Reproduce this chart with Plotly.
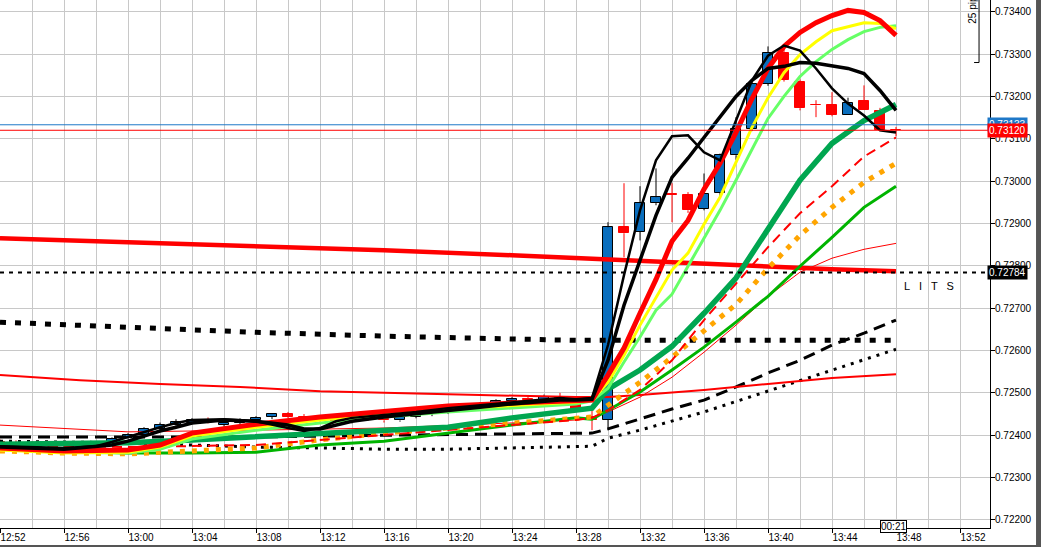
import plotly.graph_objects as go

# ---------------- data ----------------
# minutes since 12:52 (one candle per minute, 12:52 .. 13:48)
minutes = list(range(57))
opens = [0.72385, 0.72382, 0.72380, 0.72378, 0.72376, 0.72380, 0.72378, 0.72382, 0.72393, 0.72401,
         0.72415, 0.72425, 0.72429, 0.72436, 0.72424, 0.72430, 0.72437, 0.72443, 0.72450, 0.72444,
         0.72440, 0.72438, 0.72431, 0.72441, 0.72438, 0.72435, 0.72443, 0.72452, 0.72456, 0.72460,
         0.72466, 0.72474, 0.72480, 0.72485, 0.72484, 0.72490, 0.72478, 0.72443, 0.72436, 0.72891,
         0.72880, 0.72948, 0.72969, 0.72967, 0.72935, 0.72973, 0.73061, 0.73124, 0.73230, 0.73303,
         0.73235, 0.73180, 0.73180, 0.73155, 0.73188, 0.73165, 0.73121]
highs = [0.72390, 0.72388, 0.72386, 0.72385, 0.72384, 0.72386, 0.72385, 0.72395, 0.72405, 0.72419,
         0.72430, 0.72438, 0.72440, 0.72442, 0.72433, 0.72440, 0.72445, 0.72452, 0.72455, 0.72450,
         0.72446, 0.72442, 0.72445, 0.72448, 0.72444, 0.72446, 0.72455, 0.72460, 0.72465, 0.72470,
         0.72478, 0.72485, 0.72490, 0.72495, 0.72496, 0.72500, 0.72492, 0.72467, 0.72903, 0.72995,
         0.72988, 0.73030, 0.72995, 0.72974, 0.73018, 0.73065, 0.73151, 0.73235, 0.73318, 0.73312,
         0.73240, 0.73191, 0.73210, 0.73197, 0.73226, 0.73173, 0.73128]
lows = [0.72378, 0.72375, 0.72374, 0.72372, 0.72371, 0.72374, 0.72375, 0.72380, 0.72390, 0.72398,
        0.72410, 0.72420, 0.72426, 0.72428, 0.72420, 0.72426, 0.72430, 0.72438, 0.72440, 0.72436,
        0.72432, 0.72428, 0.72428, 0.72434, 0.72430, 0.72432, 0.72440, 0.72445, 0.72450, 0.72455,
        0.72460, 0.72468, 0.72472, 0.72470, 0.72478, 0.72480, 0.72455, 0.72412, 0.72412, 0.72820,
        0.72860, 0.72943, 0.72903, 0.72925, 0.72931, 0.72965, 0.73050, 0.73118, 0.73225, 0.73235,
        0.73167, 0.73151, 0.73153, 0.73155, 0.73169, 0.73120, 0.73106]
closes = [0.72382, 0.72380, 0.72378, 0.72376, 0.72380, 0.72378, 0.72383, 0.72392, 0.72401, 0.72415,
          0.72425, 0.72432, 0.72436, 0.72432, 0.72429, 0.72437, 0.72441, 0.72450, 0.72444, 0.72440,
          0.72436, 0.72431, 0.72441, 0.72438, 0.72435, 0.72443, 0.72452, 0.72456, 0.72460, 0.72466,
          0.72474, 0.72480, 0.72485, 0.72484, 0.72490, 0.72486, 0.72460, 0.72436, 0.72891, 0.72877,
          0.72948, 0.72962, 0.72968, 0.72931, 0.72970, 0.73061, 0.73124, 0.73230, 0.73303, 0.73239,
          0.73172, 0.73179, 0.73156, 0.73185, 0.73169, 0.73121, 0.73120]

# indicator lines (minute, price)
slow_red_t = [0, 8, 16, 24, 32, 36, 40, 44, 48, 52, 56]
slow_red = [0.72865, 0.72856, 0.72846, 0.72837, 0.72825, 0.72818, 0.72813, 0.72806, 0.72799, 0.72792, 0.72787]

low_red_t = [0, 5, 10, 15, 20, 25, 30, 36, 38, 40, 44, 48, 52, 56]
low_red = [0.72542, 0.72530, 0.72521, 0.72514, 0.72504, 0.72499, 0.72495, 0.72490, 0.72490, 0.72495,
           0.72507, 0.72521, 0.72535, 0.72544]

sq_black_t = [0, 8, 16, 24, 32, 36, 44, 56]
sq_black = [0.72667, 0.72655, 0.72643, 0.72634, 0.72627, 0.72624, 0.72624, 0.72624]

dot_black_t = [0, 4, 8, 12, 16, 20, 24, 28, 32, 36, 37, 38, 40, 44, 48, 52, 56]
dot_black = [0.72386, 0.72384, 0.72382, 0.72377, 0.72372, 0.72370, 0.72367, 0.72367, 0.72370, 0.72372,
             0.72374, 0.72393, 0.72412, 0.72455, 0.72504, 0.72554, 0.72603]

dash_black_t = [0, 8, 16, 24, 32, 36, 37, 38, 40, 42, 44, 46, 48, 50, 52, 54, 56]
dash_black = [0.72396, 0.72396, 0.72396, 0.72400, 0.72403, 0.72405, 0.72405, 0.72415, 0.72438, 0.72462,
              0.72483, 0.72514, 0.72547, 0.72577, 0.72613, 0.72641, 0.72672]

green_t = [0, 4, 8, 12, 16, 20, 24, 28, 32, 36, 37, 38, 40, 42, 44, 46, 48, 50, 52, 54, 56]
green = [0.72372, 0.72363, 0.72358, 0.72358, 0.72360, 0.72377, 0.72386, 0.72405, 0.72424, 0.72441,
         0.72438, 0.72459, 0.72502, 0.72554, 0.72608, 0.72667, 0.72728, 0.72799, 0.72867, 0.72938, 0.72988]

dkgreen_t = [0, 8, 12, 16, 20, 24, 28, 32, 36, 37, 38, 40, 42, 44, 46, 48, 50, 52, 54, 56]
dkgreen = [0.72379, 0.72382, 0.72389, 0.72396, 0.72403, 0.72412, 0.72419, 0.72441, 0.72459, 0.72464,
           0.72509, 0.72554, 0.72610, 0.72688, 0.72771, 0.72889, 0.73002, 0.73089, 0.73143, 0.73181]

reddash_t = [0, 8, 16, 24, 32, 36, 37, 38, 40, 42, 44, 46, 48, 50, 52, 54, 56]
reddash = [0.72377, 0.72372, 0.72377, 0.72400, 0.72424, 0.72436, 0.72441, 0.72459, 0.72507, 0.72577,
           0.72672, 0.72757, 0.72844, 0.72924, 0.72988, 0.73058, 0.73103]

orange_t = [0, 4, 8, 12, 16, 20, 24, 28, 32, 36, 37, 38, 40, 42, 44, 46, 48, 50, 52, 54, 56]
orange = [0.72363, 0.72358, 0.72356, 0.72363, 0.72370, 0.72389, 0.72405, 0.72417, 0.72429, 0.72441,
          0.72443, 0.72471, 0.72525, 0.72584, 0.72646, 0.72709, 0.72794, 0.72872, 0.72938, 0.72997, 0.73042]

thinred_t = [0, 8, 16, 24, 32, 36, 37, 38, 40, 42, 44, 46, 48, 50, 52, 54, 56]
thinred = [0.72424, 0.72408, 0.72412, 0.72417, 0.72429, 0.72436, 0.72441, 0.72455, 0.72490, 0.72537,
           0.72596, 0.72660, 0.72728, 0.72785, 0.72818, 0.72839, 0.72853]

late_t = list(range(38, 57))
fastred_t = [0, 4, 8, 10, 12, 16, 20, 24, 28, 32, 35, 36, 37] + late_t
fastred = [0.72370, 0.72363, 0.72365, 0.72377, 0.72405, 0.72426, 0.72443, 0.72457, 0.72469, 0.72476,
           0.72481, 0.72481, 0.72483,
           0.72542, 0.72606, 0.72688, 0.72768, 0.72858, 0.72907, 0.72981, 0.73042, 0.73115, 0.73195,
           0.73266, 0.73318, 0.73351, 0.73374, 0.73391, 0.73403, 0.73398, 0.73379, 0.73344]

yellow_t = [0, 4, 8, 10, 12, 16, 20, 24, 28, 32, 35, 36, 37] + late_t
yellow = [0.72365, 0.72358, 0.72360, 0.72372, 0.72398, 0.72419, 0.72436, 0.72450, 0.72462, 0.72471,
          0.72476, 0.72478, 0.72483,
          0.72525, 0.72589, 0.72660, 0.72726, 0.72790, 0.72830, 0.72898, 0.72962, 0.73044, 0.73127,
          0.73197, 0.73256, 0.73299, 0.73329, 0.73355, 0.73365, 0.73374, 0.73372, 0.73360]

ltgreen_t = [0, 4, 8, 10, 12, 16, 20, 24, 28, 32, 35, 36, 37] + late_t
ltgreen = [0.72367, 0.72360, 0.72358, 0.72367, 0.72391, 0.72412, 0.72429, 0.72443, 0.72455, 0.72464,
           0.72471, 0.72474, 0.72481,
           0.72511, 0.72573, 0.72632, 0.72695, 0.72733, 0.72799, 0.72865, 0.72931, 0.73002, 0.73075,
           0.73148, 0.73200, 0.73247, 0.73282, 0.73311, 0.73334, 0.73353, 0.73363, 0.73367]

blackP_t = [0, 4, 6, 7, 8, 9, 10, 11, 12, 14, 16, 18, 19, 20, 21, 22, 24, 26, 28, 30, 32, 34, 35, 36, 37] + late_t
blackP = [0.72374, 0.72370, 0.72374, 0.72384, 0.72396, 0.72408, 0.72419, 0.72429, 0.72436, 0.72438,
          0.72433, 0.72417, 0.72410, 0.72417, 0.72433, 0.72441, 0.72448, 0.72455, 0.72464, 0.72471,
          0.72478, 0.72485, 0.72488, 0.72485, 0.72488,
          0.72613, 0.72778, 0.72931, 0.73049, 0.73106, 0.73108, 0.73068, 0.73049, 0.73143, 0.73238,
          0.73296, 0.73320, 0.73308, 0.73266, 0.73219, 0.73183, 0.73155, 0.73120, 0.73115]

blackQ_t = [0, 4, 7, 8, 9, 10, 11, 12, 14, 16, 18, 19, 20, 21, 22, 24, 26, 28, 30, 32, 34, 35, 36, 37] + late_t
blackQ = [0.72372, 0.72367, 0.72377, 0.72386, 0.72398, 0.72410, 0.72419, 0.72429, 0.72436, 0.72433,
          0.72424, 0.72415, 0.72415, 0.72424, 0.72433, 0.72443, 0.72450, 0.72459, 0.72466, 0.72474,
          0.72481, 0.72483, 0.72483, 0.72485,
          0.72577, 0.72707, 0.72813, 0.72919, 0.73009, 0.73054, 0.73103, 0.73150, 0.73200, 0.73238,
          0.73266, 0.73271, 0.73280, 0.73278, 0.73273, 0.73266, 0.73254, 0.73214, 0.73167]

level_price = 0.72784
bid_price = 0.73120
ask_price = 0.73133

x_tick_vals = list(range(0, 61, 4))
x_tick_text = ["12:52", "12:56", "13:00", "13:04", "13:08", "13:12", "13:16", "13:20",
               "13:24", "13:28", "13:32", "13:36", "13:40", "13:44", "13:48", "13:52"]
y_tick_vals = [0.722 + 0.001 * i for i in range(13)]

# ---------------- figure ----------------
BLUE = "#0a6ebd"
RED = "#ff0000"
fig = go.Figure()

up = [i for i in minutes if closes[i] > opens[i]]
dn = [i for i in minutes if closes[i] <= opens[i]]


def wicks(idx):
    xs, ys = [], []
    for i in idx:
        top = max(opens[i], closes[i])
        bot = min(opens[i], closes[i])
        xs += [minutes[i], minutes[i], None, minutes[i], minutes[i], None]
        ys += [highs[i], top, None, bot, lows[i], None]
    return xs, ys


for idx, col in ((up, "black"), (dn, RED)):
    wx, wy = wicks(idx)
    fig.add_trace(go.Scatter(x=wx, y=wy, mode="lines", line=dict(color=col, width=1),
                             hoverinfo="skip", showlegend=False))

for idx, fill, edge in ((up, BLUE, "black"), (dn, RED, RED)):
    fig.add_trace(go.Bar(
        x=[minutes[i] for i in idx],
        base=[min(opens[i], closes[i]) for i in idx],
        y=[max(abs(closes[i] - opens[i]), 0.000012) for i in idx],
        width=0.625, marker=dict(color=fill, line=dict(color=edge, width=1)),
        showlegend=False, hoverinfo="skip"))


def line(t, v, color, width, dash="solid"):
    fig.add_trace(go.Scatter(x=t, y=v, mode="lines",
                             line=dict(color=color, width=width, dash=dash),
                             hoverinfo="skip", showlegend=False))


line(slow_red_t, slow_red, RED, 4.5)
line(sq_black_t, sq_black, "black", 5, "6px,9px")
line(dash_black_t, dash_black, "black", 3, "12px,7px")
line(dot_black_t, dot_black, "black", 3, "3px,6px")
line(low_red_t, low_red, RED, 2)
line(thinred_t, thinred, RED, 1)
line(green_t, green, "#00b400", 3)
line(orange_t, orange, "#ffa500", 5, "5px,7px")
line(reddash_t, reddash, RED, 2, "10px,6px")
line(dkgreen_t, dkgreen, "#00a650", 5.5)
line(ltgreen_t, ltgreen, "#66ff66", 3)
line(yellow_t, yellow, "#ffff00", 3)
line(fastred_t, fastred, RED, 5)
line(blackQ_t, blackQ, "black", 3.5)
line(blackP_t, blackP, "black", 2.5)

shapes = [
    dict(type="line", xref="paper", x0=0, x1=1, yref="y", y0=level_price, y1=level_price,
         line=dict(color="black", width=2, dash="4px,5px")),
    dict(type="line", xref="paper", x0=0, x1=1, yref="y", y0=ask_price, y1=ask_price,
         line=dict(color="#1e78c8", width=1)),
    dict(type="line", xref="paper", x0=0, x1=1, yref="y", y0=bid_price, y1=bid_price,
         line=dict(color=RED, width=1)),
    # 25 pips bracket
    dict(type="path", xref="x", yref="y",
         path="M 61.19,0.7345 L 61.19,0.73280 L 60.88,0.73280",
         line=dict(color="black", width=1)),
    # dark frame right / bottom
    dict(type="rect", xref="paper", yref="paper", x0=1.0465, x1=1.07, y0=-0.06, y1=1.05,
         fillcolor="#555555", line=dict(width=0)),
    dict(type="rect", xref="paper", yref="paper", x0=-0.01, x1=1.07, y0=-0.06, y1=-0.0322,
         fillcolor="#555555", line=dict(width=0)),
]

FONT = "Liberation Sans"
annotations = [
    dict(xref="paper", x=1, xanchor="left", xshift=-3, yref="y", y=ask_price, text="0.73133",
         showarrow=False, bgcolor="#1e78c8", font=dict(color="white", size=10, family=FONT), borderpad=1),
    dict(xref="paper", x=1, xanchor="left", xshift=-3, yref="y", y=bid_price, text="0.73120",
         showarrow=False, bgcolor=RED, font=dict(color="white", size=10, family=FONT), borderpad=1),
    dict(xref="paper", x=1, xanchor="left", xshift=-3, yref="y", y=level_price, text="0.72784",
         showarrow=False, bgcolor="black", font=dict(color="white", size=10, family=FONT), borderpad=1),
    dict(xref="x", x=56.4, xanchor="left", yref="y", y=0.72752, text="L   I   T   S",
         showarrow=False, font=dict(color="black", size=11, family=FONT)),
    dict(xref="x", x=60.8, yref="paper", y=0.985, yanchor="middle", text="25 pips", textangle=-90,
         showarrow=False, font=dict(color="black", size=10, family=FONT)),
    dict(xref="x", x=55.84, yref="paper", y=0, yanchor="middle", yshift=2, text="00:21", showarrow=False,
         bgcolor="white", bordercolor="black", borderwidth=1, borderpad=0,
         font=dict(color="black", size=10, family=FONT)),
]

fig.update_layout(
    width=1041, height=547,
    margin=dict(l=0, r=51, t=0, b=19, pad=0),
    paper_bgcolor="white", plot_bgcolor="white",
    barmode="overlay", bargap=0,
    showlegend=False,
    font=dict(family=FONT, size=10, color="black"),
    shapes=shapes, annotations=annotations,
    xaxis=dict(range=[0, 61.875], tickmode="array", tickvals=x_tick_vals, ticktext=x_tick_text,
               showgrid=True, gridcolor="#c8c8c8", gridwidth=1,
               minor=dict(tickmode="linear", tick0=0, dtick=2, showgrid=True, gridcolor="#c8c8c8", ticklen=0),
               showline=True, linecolor="black", linewidth=1, ticks="outside", ticklen=4,
               tickcolor="black", ticklabelshift=13, ticklabelstandoff=-4, zeroline=False,
               tickfont=dict(size=10, family=FONT)),
    yaxis=dict(range=[0.72181, 0.734276], side="right", tickmode="array", tickvals=y_tick_vals,
               tickformat=".5f", showgrid=True, gridcolor="#c8c8c8", gridwidth=1,
               showline=True, linecolor="black", linewidth=1, ticks="outside", ticklen=4,
               tickcolor="black", ticklabelstandoff=-2, zeroline=False,
               tickfont=dict(size=10, family=FONT)),
)

fig.write_html("out.html", config={"displayModeBar": False},
               post_script="document.body.style.margin='0';document.body.style.overflow='hidden';")
